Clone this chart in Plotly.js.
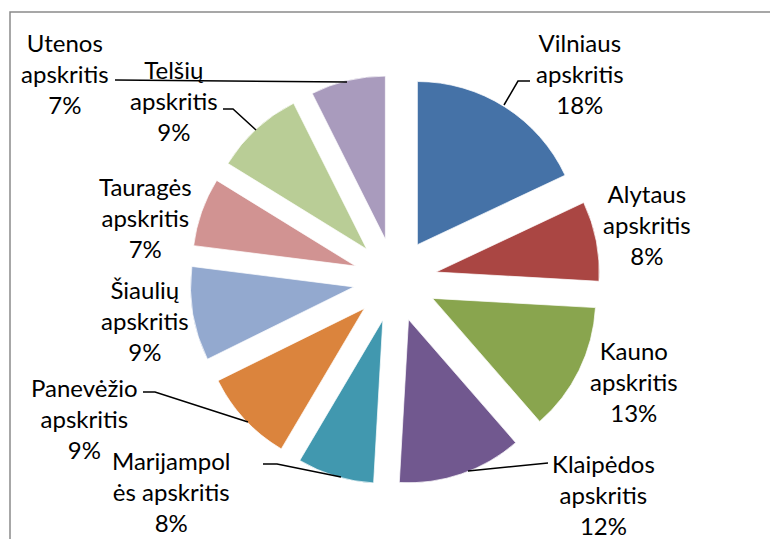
<!DOCTYPE html>
<html>
<head>
<meta charset="utf-8">
<script src="https://cdn.plot.ly/plotly-3.0.1.min.js"></script>
<style>
  html, body { margin: 0; padding: 0; background: #ffffff; }
  #chart { width: 770px; height: 539px; }
</style>
</head>
<body>
<div id="chart"></div>
<script>
// ---- data ----
const categories = [
  "Vilniaus apskritis", "Alytaus apskritis", "Kauno apskritis", "Klaipėdos apskritis",
  "Marijampolės apskritis", "Panevėžio apskritis", "Šiaulių apskritis",
  "Tauragės apskritis", "Telšių apskritis", "Utenos apskritis"
];
const shares = [18.0, 7.9, 12.7, 12.3, 7.6, 9.2, 9.3, 6.8, 8.8, 7.4];
const labelLines = [
  "Vilniaus<br>apskritis", "Alytaus<br>apskritis", "Kauno<br>apskritis", "Klaipėdos<br>apskritis",
  "Marijampol<br>ės apskritis", "Panevėžio<br>apskritis", "Šiaulių<br>apskritis",
  "Tauragės<br>apskritis", "Telšių<br>apskritis", "Utenos<br>apskritis"
];
const colors = ["#4572A7", "#AA4643", "#89A54E", "#71588F", "#4198AF",
                "#DB843D", "#93A9CF", "#D19392", "#B9CD96", "#A99BBD"];

// ---- layout helpers (pixel -> paper) ----
const W = 770, H = 539;
const px = x => x / W;
const py = y => 1 - y / H;

// label block centres (pixels)
const labelPos = [
  [580, 73], [647, 224], [634, 381], [603, 494], [171, 491],
  [84, 418], [145, 321], [145, 217], [174, 100], [65, 73]
];
// leader lines (pixels)
const leaders = [
  [[504, 105], [518, 81], [530, 81]],
  [[468, 471], [548, 463]],
  [[263, 464], [277, 464], [341, 477]],
  [[143, 392], [155, 392], [248, 422]],
  [[223, 109], [233, 109], [256, 130]],
  [[115, 80], [347, 82]]
];

const total = shares.reduce((a, b) => a + b, 0);

const trace = {
  type: "pie",
  labels: categories,
  values: shares,
  sort: false,
  direction: "clockwise",
  rotation: 0,
  pull: shares.map(() => 0.256),
  marker: { colors: colors, line: { color: "rgba(255,255,255,0.7)", width: 1 } },
  textinfo: "none",
  hoverinfo: "skip",
  showlegend: false,
  domain: { x: [px(143), px(647)], y: [py(485), py(75)] }
};

const annotations = categories.map((c, i) => ({
  xref: "paper", yref: "paper",
  x: px(labelPos[i][0]), y: py(labelPos[i][1]),
  xanchor: "center", yanchor: "middle",
  showarrow: false,
  align: "center",
  text: labelLines[i] + "<br>" + Math.round(shares[i] / total * 100) + "%",
  font: { family: "Lato, 'Open Sans', sans-serif", size: 24, color: "#000000" }
}));

const shapes = leaders.map(pts => ({
  type: "path", xref: "paper", yref: "paper",
  path: pts.map((p, j) => (j === 0 ? "M" : "L") + px(p[0]) + "," + py(p[1])).join(" "),
  line: { color: "#000000", width: 1.5 }
}));
// chart frame (cut off at right and bottom in the reference)
shapes.push({
  type: "path", xref: "paper", yref: "paper",
  path: "M" + px(10) + "," + (-0.05) + " L" + px(10) + "," + py(12) + " L" + 1.05 + "," + py(12),
  line: { color: "#8a8a8a", width: 1.5 }
});

const layout = {
  width: W, height: H,
  margin: { l: 0, r: 0, t: 0, b: 0 },
  paper_bgcolor: "#ffffff",
  plot_bgcolor: "#ffffff",
  showlegend: false,
  annotations: annotations,
  shapes: shapes
};

Plotly.newPlot("chart", [trace], layout, { displayModeBar: false, staticPlot: true });
</script>
</body>
</html>
